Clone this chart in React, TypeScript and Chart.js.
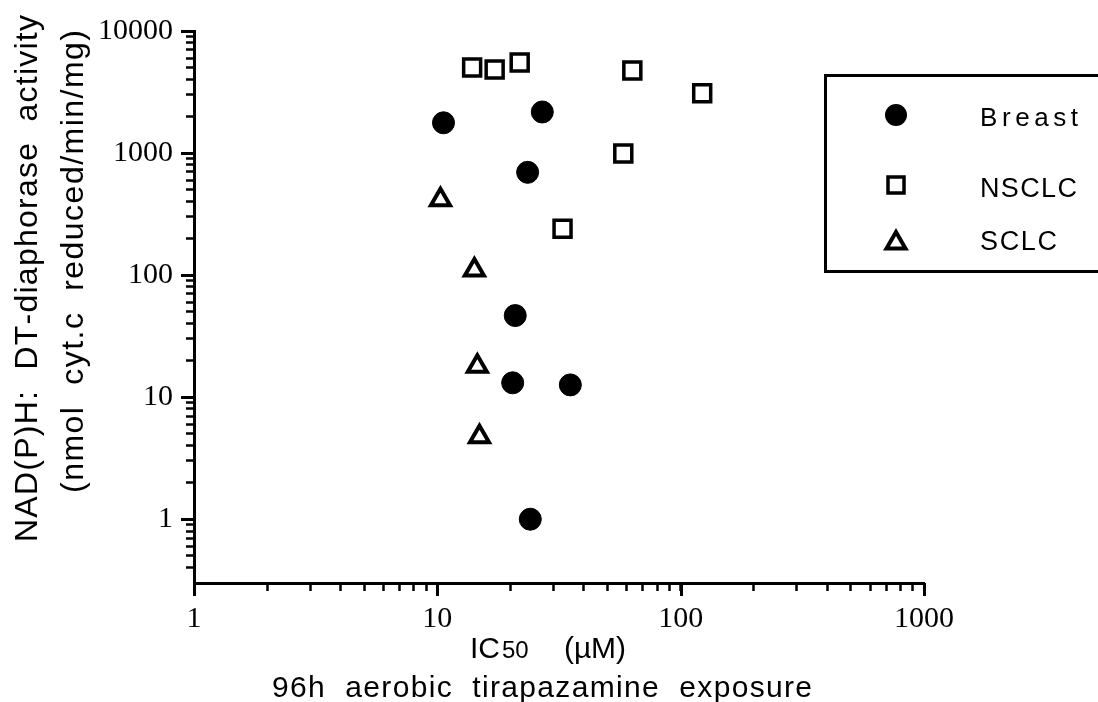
import React, { useEffect, useRef } from "react";
import { Chart, registerables } from "chart.js";

Chart.register(...registerables);

// ---- data ----
const breastIC50 = [10.6, 27.0, 23.5, 20.9, 20.4, 35.2, 24.1];
const breastActivity = [1770, 2170, 695, 46.6, 13.1, 12.6, 1.0];

const nsclcIC50 = [13.9, 17.2, 21.8, 63.3, 122.6, 58.1, 32.7];
const nsclcActivity = [5015, 4830, 5510, 4745, 3090, 991, 240];

const sclcIC50 = [10.3, 14.2, 14.6, 14.9];
const sclcActivity = [415, 110, 17.9, 4.73];

const seriesNames = ["Breast", "NSCLC", "SCLC"];

const xTickValues = [1, 2, 3, 4, 5, 6, 7, 8, 9, 10, 20, 30, 40, 50, 60, 70, 80, 90, 100, 200, 300, 400, 500, 600, 700, 800, 900, 1000];
const xTickLabels = [1, 10, 100, 1000];
const yTickValues = [0.4, 0.5, 0.6, 0.7, 0.8, 0.9, 1, 2, 3, 4, 5, 6, 7, 8, 9, 10, 20, 30, 40, 50, 60, 70, 80, 90, 100, 200, 300, 400, 500, 600, 700, 800, 900, 1000, 2000, 3000, 4000, 5000, 6000, 7000, 8000, 9000, 10000];
const yTickLabels = [1, 10, 100, 1000, 10000];

const yTitleLines = ["NAD(P)H:  DT-diaphorase  activity", "(nmol  cyt.c  reduced/min/mg)"];
const xTitleMain = "IC";
const xTitleSub = "50";
const xTitleUnit = "(\u00B5M)";
const xTitleLine2 = "96h  aerobic  tirapazamine  exposure";

const SERIF = "'Liberation Serif', 'Times New Roman', serif";
const SANS = "'Liberation Sans', Arial, Helvetica, sans-serif";

function drawSpread(ctx: CanvasRenderingContext2D, text: string, x0: number, x1: number, y: number) {
  const chars = Array.from(text);
  const widths = chars.map((c) => ctx.measureText(c).width);
  const total = widths.reduce((a, b) => a + b, 0);
  const gap = chars.length > 1 ? (x1 - x0 - total) / (chars.length - 1) : 0;
  let x = x0;
  ctx.textAlign = "left";
  chars.forEach((c, i) => {
    ctx.fillText(c, x, y);
    x += widths[i] + gap;
  });
}

const annotations = {
  id: "annotations",
  afterDraw(chart: any) {
    const ctx: CanvasRenderingContext2D = chart.ctx;
    const xs = chart.scales.x;
    const ys = chart.scales.y;
    ctx.save();
    ctx.strokeStyle = "#000";
    ctx.fillStyle = "#000";
    ctx.lineWidth = 3;
    // longer major ticks
    xTickLabels.forEach((v) => {
      const px = Math.round(xs.getPixelForValue(v)) + 0.5;
      ctx.beginPath();
      ctx.moveTo(px, xs.top);
      ctx.lineTo(px, xs.top + 13);
      ctx.stroke();
    });
    yTickLabels.forEach((v) => {
      const py = Math.round(ys.getPixelForValue(v)) + 0.5;
      ctx.beginPath();
      ctx.moveTo(ys.right, py);
      ctx.lineTo(ys.right - 13, py);
      ctx.stroke();
    });

    // y title (rotated)
    ctx.textBaseline = "alphabetic";
    ctx.font = `32px ${SANS}`;
    const yLines = [
      { text: yTitleLines[0], bx: 37, from: 542, to: 15 },
      { text: yTitleLines[1], bx: 83, from: 493, to: 30 },
    ];
    yLines.forEach((l) => {
      ctx.save();
      ctx.translate(l.bx, 0);
      ctx.rotate(-Math.PI / 2);
      drawSpread(ctx, l.text, -l.from, -l.to, 0);
      ctx.restore();
    });

    // x title
    ctx.textAlign = "left";
    ctx.font = `30px ${SANS}`;
    ctx.fillText(xTitleMain, 470, 658);
    const icW = ctx.measureText(xTitleMain).width;
    ctx.font = `24px ${SANS}`;
    ctx.fillText(xTitleSub, 470 + icW + 2, 658);
    ctx.font = `30px ${SANS}`;
    drawSpread(ctx, xTitleUnit, 564, 626, 658);
    drawSpread(ctx, xTitleLine2, 272, 812, 697);

    // legend box
    ctx.lineWidth = 3;
    ctx.strokeRect(825.5, 75.5, 300, 196);
    // markers
    ctx.beginPath();
    ctx.arc(896, 115, 11, 0, Math.PI * 2);
    ctx.fill();
    ctx.lineWidth = 3.5;
    ctx.strokeRect(888, 177, 16, 16);
    const r = 11;
    const cx = 896, cy = 243;
    ctx.beginPath();
    for (let i = 0; i < 3; i++) {
      const a = (i * 2 * Math.PI) / 3;
      const px = cx + Math.sin(a) * r;
      const py = cy - Math.cos(a) * r;
      if (i === 0) ctx.moveTo(px, py);
      else ctx.lineTo(px, py);
    }
    ctx.closePath();
    ctx.lineWidth = 4;
    ctx.stroke();
    // legend labels
    ctx.font = `26px ${SANS}`;
    drawSpread(ctx, seriesNames[0], 980, 1078, 126);
    ctx.font = `27px ${SANS}`;
    drawSpread(ctx, seriesNames[1], 980, 1077, 197);
    drawSpread(ctx, seriesNames[2], 980, 1057, 250);
    ctx.restore();
  },
};

export default function App() {
  const canvasRef = useRef<HTMLCanvasElement | null>(null);

  useEffect(() => {
    const canvas = canvasRef.current;
    if (!canvas) return;
    const toPoints = (xs: number[], ys: number[]) => xs.map((x, i) => ({ x, y: ys[i] }));
    const chart = new Chart(canvas, {
      type: "scatter",
      data: {
        datasets: [
          {
            label: seriesNames[0],
            data: toPoints(breastIC50, breastActivity),
            pointStyle: "circle",
            pointRadius: 11,
            pointHoverRadius: 11,
            backgroundColor: "#000",
            borderColor: "#000",
            borderWidth: 1,
          },
          {
            label: seriesNames[1],
            data: toPoints(nsclcIC50, nsclcActivity),
            pointStyle: "rect",
            pointRadius: 12,
            pointHoverRadius: 12,
            backgroundColor: "#fff",
            borderColor: "#000",
            borderWidth: 3.5,
          },
          {
            label: seriesNames[2],
            data: toPoints(sclcIC50, sclcActivity),
            pointStyle: "triangle",
            pointRadius: 11,
            pointHoverRadius: 11,
            backgroundColor: "#fff",
            borderColor: "#000",
            borderWidth: 4,
          },
        ],
      },
      options: {
        animation: false,
        responsive: false,
        events: [],
        clip: false as any,
        layout: { padding: { top: 29, right: 174, left: 0, bottom: 0 } },
        plugins: {
          legend: { display: false },
          tooltip: { enabled: false },
          title: { display: false },
        },
        scales: {
          x: {
            type: "logarithmic",
            position: "bottom",
            min: 1,
            max: 1000,
            afterBuildTicks: (s: any) => {
              s.ticks = xTickValues.map((v) => ({ value: v }));
            },
            afterFit: (s: any) => {
              s.height = 119;
            },
            grid: {
              display: true,
              drawOnChartArea: false,
              drawTicks: true,
              tickLength: 8,
              tickWidth: 2.5,
              tickColor: "#000",
            },
            border: { display: true, color: "#000", width: 3 },
            ticks: {
              autoSkip: false,
              maxRotation: 0,
              minRotation: 0,
              padding: 10,
              color: "#000",
              font: { family: SERIF, size: 30 },
              callback: (v: any) => (xTickLabels.includes(Number(v)) ? String(v) : ""),
            },
          },
          y: {
            type: "logarithmic",
            position: "left",
            min: 0.32,
            max: 10000,
            afterBuildTicks: (s: any) => {
              s.ticks = yTickValues.map((v) => ({ value: v }));
            },
            afterFit: (s: any) => {
              s.width = 194;
            },
            grid: {
              display: true,
              drawOnChartArea: false,
              drawTicks: true,
              tickLength: 8,
              tickWidth: 2.5,
              tickColor: "#000",
            },
            border: { display: true, color: "#000", width: 3 },
            ticks: {
              autoSkip: false,
              padding: 13,
              color: "#000",
              font: { family: SERIF, size: 30 },
              callback: (v: any) => (yTickLabels.includes(Number(v)) ? String(v) : ""),
            },
          },
        },
      },
      plugins: [annotations],
    } as any);
    return () => chart.destroy();
  }, []);

  return (
    <div style={{ position: "fixed", left: 0, top: 0, width: 1098, height: 702, background: "#fff" }}>
      <canvas ref={canvasRef} width={1098} height={702} style={{ width: 1098, height: 702, display: "block" }} />
    </div>
  );
}
